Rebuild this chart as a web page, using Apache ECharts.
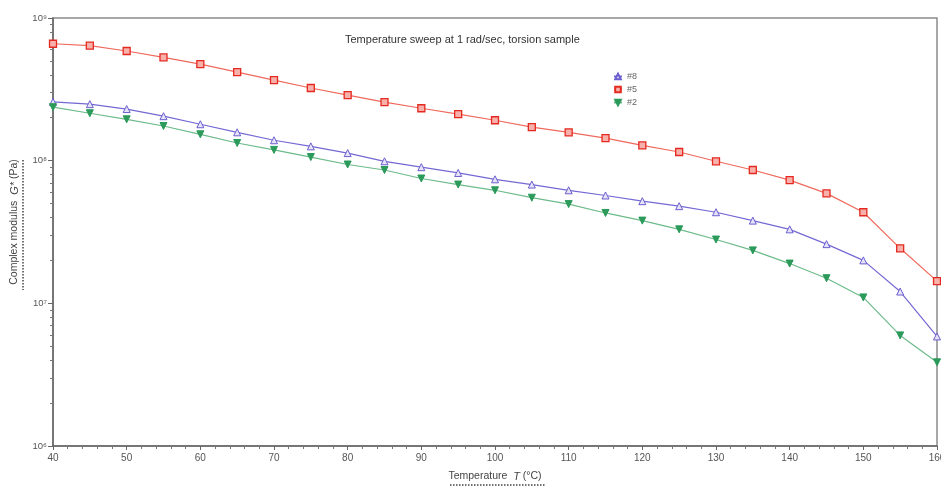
<!DOCTYPE html>
<html>
<head>
<meta charset="utf-8">
<script src="https://cdn.jsdelivr.net/npm/echarts@6/dist/echarts.min.js"></script>
<style>
html,body{margin:0;padding:0;background:#fff;overflow:hidden;}
#c{width:941px;height:489px;}
</style>
</head>
<body>
<div id="c"></div>
<script>
const temperatures = [40,45,50,55,60,65,70,75,80,85,90,95,100,105,110,115,120,125,130,135,140,145,150,155,160];
const s8 = [2.58e8,2.49e8,2.3e8,2.05e8,1.8e8,1.58e8,1.39e8,1.26e8,1.13e8,9.9e7,9.0e7,8.2e7,7.4e7,6.8e7,6.2e7,5.7e7,5.2e7,4.8e7,4.35e7,3.8e7,3.3e7,2.6e7,2.0e7,1.21e7,5.86e6];
const s5 = [6.6e8,6.4e8,5.87e8,5.3e8,4.75e8,4.18e8,3.67e8,3.23e8,2.88e8,2.57e8,2.33e8,2.12e8,1.92e8,1.72e8,1.58e8,1.44e8,1.28e8,1.15e8,9.9e7,8.6e7,7.3e7,5.9e7,4.35e7,2.43e7,1.43e7];
const s2 = [2.37e8,2.15e8,1.95e8,1.75e8,1.53e8,1.33e8,1.19e8,1.06e8,9.4e7,8.6e7,7.5e7,6.8e7,6.2e7,5.5e7,4.96e7,4.3e7,3.8e7,3.3e7,2.8e7,2.35e7,1.9e7,1.5e7,1.1e7,5.96e6,3.86e6];
const seriesNames = ['#8','#5','#2'];
const yMajorTicks = [1e6,1e7,1e8,1e9];
const sup = {'6':'\u2076','7':'\u2077','8':'\u2078','9':'\u2079'};
const yMinorTicks = [];
for (let d = 6; d < 9; d++) for (let m = 2; m <= 9; m++) yMinorTicks.push(m * Math.pow(10, d));

const pairs = a => temperatures.map((t,i)=>[t,a[i]]);
const chart = echarts.init(document.getElementById('c'));
const font = 'Liberation Sans, Arial, sans-serif';
chart.setOption({
  animation:false,
  backgroundColor:'#fff',
  textStyle:{fontFamily:font},
  title:{text:'Temperature sweep at 1 rad/sec, torsion sample', left:340, top:29,
    textStyle:{fontSize:11, fontWeight:'normal', color:'#333', fontFamily:font}},
  legend:{orient:'vertical', left:608, top:67, itemWidth:8, itemHeight:7, itemGap:4,
    textStyle:{fontSize:9, color:'#666'}, data:seriesNames},
  grid:{left:53, right:4, top:18, bottom:43, show:true, borderColor:'#8c8c8c', borderWidth:1.5,
    outerBoundsMode:'none', containLabel:false},
  xAxis:{type:'value', min:40, max:160, interval:10,
    name:'Temperature  {i|T} (°C)', nameLocation:'middle', nameGap:25,
    nameTextStyle:{fontSize:10.5, color:'#444', rich:{i:{fontStyle:'italic', fontSize:11, color:'#444'}}},
    axisLine:{lineStyle:{color:'#666', width:1.5}},
    axisTick:{show:true, length:4, lineStyle:{color:'#666'}},
    minorTick:{show:true, splitNumber:5, length:3, lineStyle:{color:'#777'}},
    splitLine:{show:false},
    axisLabel:{fontSize:10, color:'#555', margin:7}},
  yAxis:[{type:'log', logBase:10, min:1e6, max:1e9,
    name:'Complex modulus  {i|G*} (Pa)', nameLocation:'middle', nameGap:33, nameRotate:90,
    nameTextStyle:{fontSize:10.5, color:'#444', padding:[0,0,0,20], rich:{i:{fontStyle:'italic', fontSize:11, color:'#444'}}},
    axisLine:{show:true, lineStyle:{color:'#666', width:1.5}},
    axisTick:{show:true, length:5, lineStyle:{color:'#666'}, customValues:yMajorTicks},
    axisLabel:{fontSize:9.5, color:'#555', margin:6, customValues:yMajorTicks,
      formatter:v=>'10'+sup[String(Math.round(Math.log10(v)))]},
    splitLine:{show:false}},
   {type:'log', logBase:10, min:1e6, max:1e9, position:'left',
    axisLine:{show:false},
    axisTick:{show:true, length:3, lineStyle:{color:'#777'}, customValues:yMinorTicks},
    axisLabel:{show:false, customValues:yMinorTicks},
    splitLine:{show:false}}],
  graphic:[
    {type:'line', shape:{x1:23, y1:160, x2:23, y2:290}, style:{stroke:'#444', lineWidth:1.5, lineDash:[1.5,1.5]}},
    {type:'line', shape:{x1:450, y1:485, x2:545, y2:485}, style:{stroke:'#444', lineWidth:1.5, lineDash:[1.5,1.5]}}
  ],
  series:[
    {name:'#8', type:'line', data:pairs(s8), symbol:'triangle', symbolSize:7,
      lineStyle:{color:'#7468d4', width:1.2},
      itemStyle:{color:'#e6e3f8', borderColor:'#6a5fce', borderWidth:1}},
    {name:'#5', type:'line', data:pairs(s5), symbol:'rect', symbolSize:7,
      lineStyle:{color:'#ef6a5c', width:1.2},
      itemStyle:{color:'#f7b0aa', borderColor:'#e42a20', borderWidth:1.3}},
    {name:'#2', type:'line', data:pairs(s2), symbol:'triangle', symbolRotate:180, symbolSize:7,
      lineStyle:{color:'#6dbb8a', width:1.2},
      itemStyle:{color:'#2b9a5a', borderColor:'#2b9a5a', borderWidth:1}}
  ]
});
</script>
</body>
</html>
